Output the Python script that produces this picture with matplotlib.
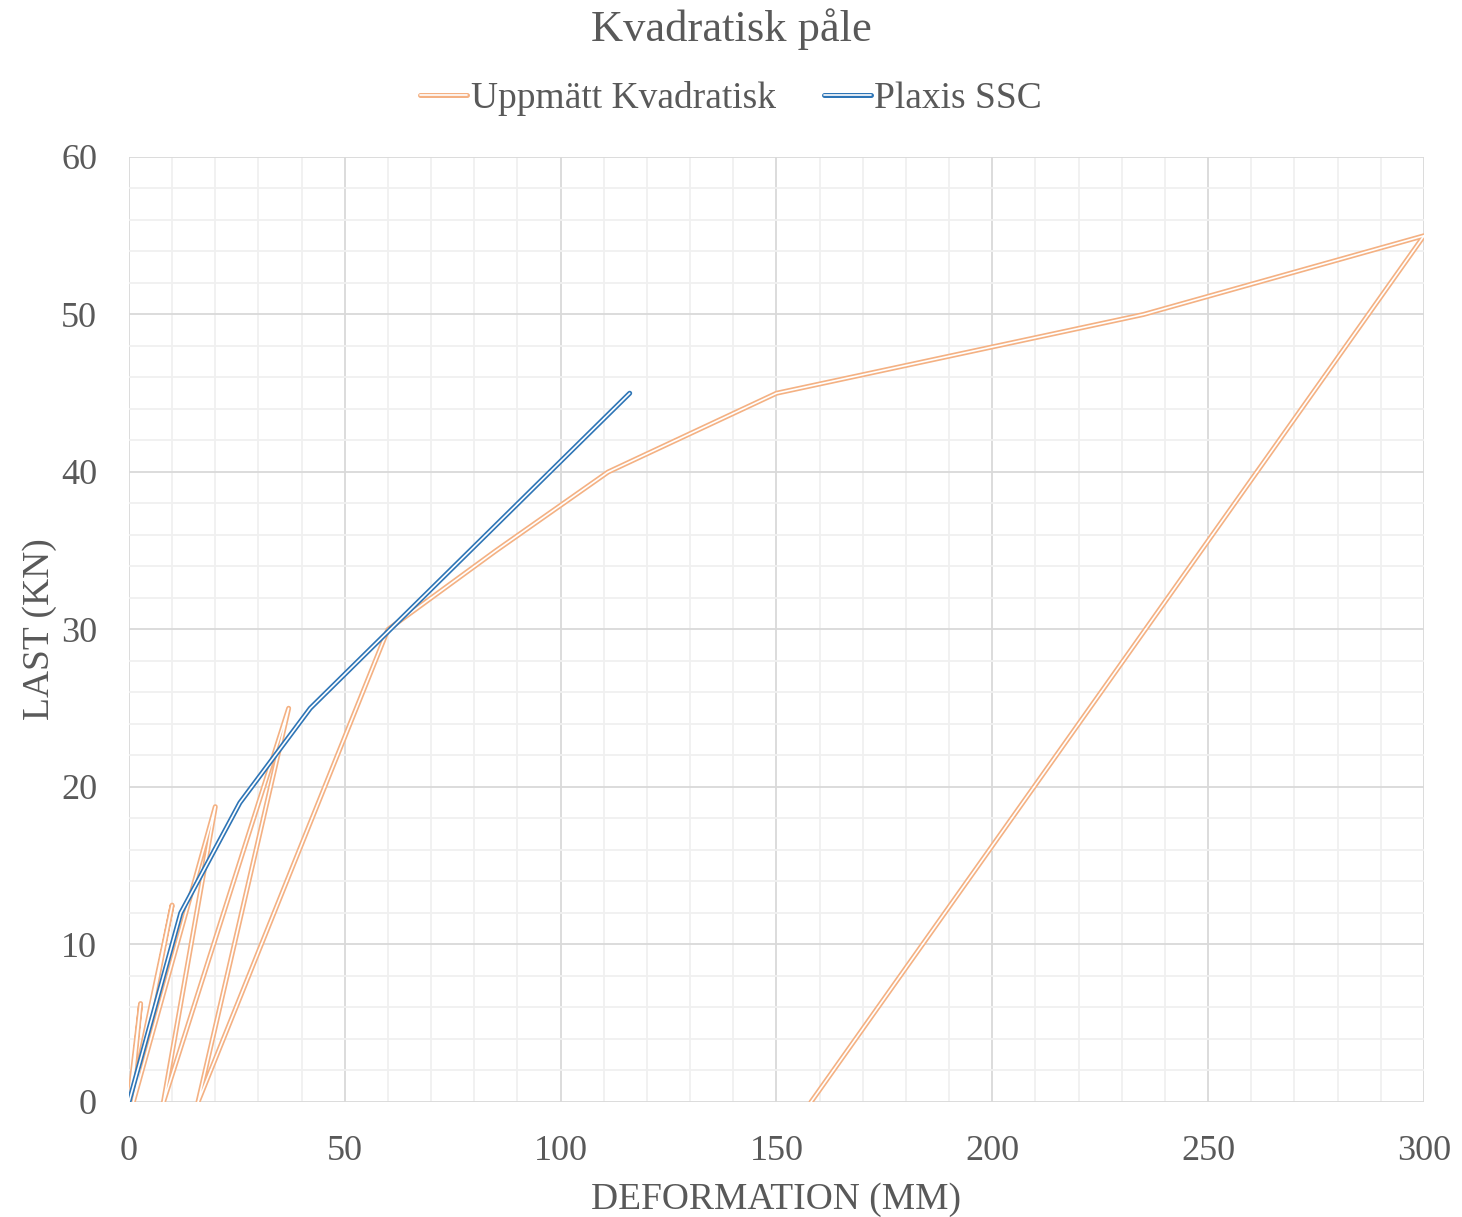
import matplotlib
matplotlib.use("Agg")
import matplotlib.pyplot as plt
import matplotlib.patheffects as pe
from matplotlib.ticker import MultipleLocator

# Measured load test, square pile (loading / unloading cycles)
matt_def = [0, 2.7, 0.4, 10, 1.0, 20, 8, 37, 16, 60, 85, 111, 150, 235, 300, 229, 158]
matt_last = [0, 6.25, 0, 12.5, 0, 18.75, 0, 25, 0, 30, 35, 40, 45, 50, 55, 27.5, 0]

# Plaxis soft soil creep model
plaxis_def = [0, 12, 25.7, 42, 116]
plaxis_last = [0, 12, 19, 25, 45]

x_ticks = [0, 50, 100, 150, 200, 250, 300]
y_ticks = [0, 10, 20, 30, 40, 50, 60]

ORANGE = "#F4B183"
BLUE = "#2E75B6"
TEXT = "#595959"

plt.rcParams["font.family"] = ["Liberation Serif", "DejaVu Serif"]

fig = plt.figure(figsize=(14.62, 12.17), dpi=100)
ax = fig.add_axes([0.0882, 0.0945, 0.974 - 0.0882, 0.871 - 0.0945])


def double_line(color):
    # thick coloured stroke with a thin white core -> "double" line look
    return [pe.Stroke(linewidth=3.6, foreground=color),
            pe.Stroke(linewidth=1.2, foreground="white")]


ax.plot(matt_def, matt_last, color=ORANGE, lw=3.6,
        solid_joinstyle="round", solid_capstyle="round",
        path_effects=double_line(ORANGE), label="Uppmätt Kvadratisk", zorder=3)
ax.plot(plaxis_def, plaxis_last, color=BLUE, lw=3.6,
        solid_joinstyle="round", solid_capstyle="round",
        path_effects=double_line(BLUE), label="Plaxis SSC", zorder=4)

ax.set_xlim(0, 300)
ax.set_ylim(0, 60)
ax.set_xticks(x_ticks)
ax.set_yticks(y_ticks)
ax.xaxis.set_minor_locator(MultipleLocator(10))
ax.yaxis.set_minor_locator(MultipleLocator(2))

ax.grid(which="major", color="#D9D9D9", lw=1.3, zorder=0)
ax.grid(which="minor", color="#F0F0F0", lw=1.3, zorder=0)
ax.set_axisbelow(True)

for s in ax.spines.values():
    s.set_visible(False)

ax.tick_params(which="both", length=0, labelsize=26, labelcolor=TEXT)
ax.tick_params(axis="x", pad=24)
ax.tick_params(axis="y", pad=23)

ax.set_xlabel("DEFORMATION (MM)", fontsize=27, color=TEXT, labelpad=10)
ax.set_ylabel("LAST (KN)", fontsize=27, color=TEXT, labelpad=3)

fig.suptitle("Kvadratisk påle", x=0.5, y=0.993, fontsize=32, color=TEXT,
             va="top")

leg = fig.legend(loc="center", bbox_to_anchor=(0.5, 0.919), ncol=2,
                 frameon=False, fontsize=27, handlelength=1.25,
                 handletextpad=0.1, columnspacing=1.28, labelcolor=TEXT)

fig.savefig("out.png", dpi=100)
